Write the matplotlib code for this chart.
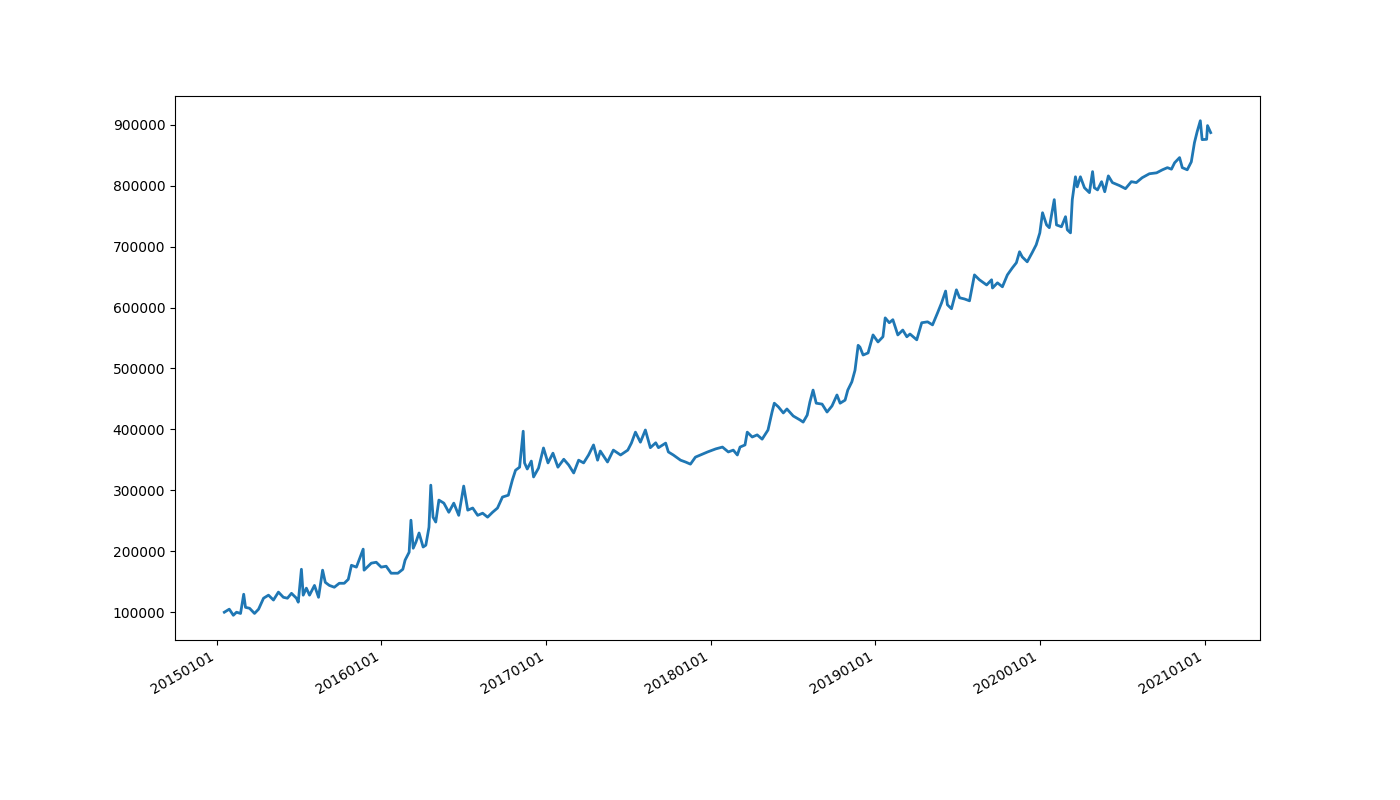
import matplotlib
matplotlib.use('Agg')
import matplotlib.pyplot as plt
import matplotlib.dates as mdates
import pandas as pd

# valores (curva de capital)
datas = [
    '2015-01-18', '2015-01-29', '2015-02-07', '2015-02-14', '2015-02-23', '2015-03-02',
    '2015-03-06', '2015-03-15', '2015-03-26', '2015-04-04', '2015-04-15', '2015-04-26',
    '2015-05-07', '2015-05-18', '2015-05-29', '2015-06-07', '2015-06-16', '2015-06-27',
    '2015-07-01', '2015-07-08', '2015-07-12', '2015-07-19', '2015-07-26', '2015-08-06',
    '2015-08-15', '2015-08-24', '2015-08-30', '2015-09-08', '2015-09-19', '2015-09-30',
    '2015-10-11', '2015-10-20', '2015-10-27', '2015-11-07', '2015-11-22', '2015-11-24',
    '2015-12-10', '2015-12-21', '2016-01-01', '2016-01-12', '2016-01-23', '2016-02-07',
    '2016-02-18', '2016-02-23', '2016-03-03', '2016-03-07', '2016-03-12', '2016-03-18',
    '2016-03-25', '2016-04-03', '2016-04-09', '2016-04-16', '2016-04-20', '2016-04-25',
    '2016-05-01', '2016-05-08', '2016-05-19', '2016-05-30', '2016-06-10', '2016-06-21',
    '2016-07-02', '2016-07-11', '2016-07-22', '2016-08-02', '2016-08-13', '2016-08-24',
    '2016-09-04', '2016-09-15', '2016-09-26', '2016-10-09', '2016-10-18', '2016-10-25',
    '2016-11-03', '2016-11-11', '2016-11-14', '2016-11-20', '2016-11-29', '2016-12-04',
    '2016-12-15', '2016-12-26', '2017-01-05', '2017-01-16', '2017-01-27', '2017-02-09',
    '2017-02-20', '2017-03-03', '2017-03-14', '2017-03-25', '2017-04-05', '2017-04-16',
    '2017-04-25', '2017-05-01', '2017-05-17', '2017-05-30', '2017-06-15', '2017-07-01',
    '2017-07-09', '2017-07-18', '2017-07-29', '2017-08-09', '2017-08-20', '2017-09-01',
    '2017-09-07', '2017-09-23', '2017-09-29', '2017-10-10', '2017-10-26', '2017-11-06',
    '2017-11-17', '2017-11-28', '2017-12-09', '2017-12-25', '2018-01-12', '2018-01-27',
    '2018-02-09', '2018-02-20', '2018-03-01', '2018-03-07', '2018-03-18', '2018-03-23',
    '2018-04-03', '2018-04-14', '2018-04-25', '2018-05-08', '2018-05-17', '2018-05-22',
    '2018-05-31', '2018-06-11', '2018-06-19', '2018-07-03', '2018-07-18', '2018-07-25',
    '2018-08-03', '2018-08-09', '2018-08-16', '2018-08-23', '2018-09-05', '2018-09-16',
    '2018-09-27', '2018-10-08', '2018-10-15', '2018-10-26', '2018-11-01', '2018-11-10',
    '2018-11-17', '2018-11-24', '2018-11-28', '2018-12-05', '2018-12-16', '2018-12-27',
    '2019-01-07', '2019-01-18', '2019-01-23', '2019-02-01', '2019-02-09', '2019-02-20',
    '2019-03-03', '2019-03-12', '2019-03-19', '2019-04-03', '2019-04-14', '2019-04-27',
    '2019-05-08', '2019-05-19', '2019-05-28', '2019-06-06', '2019-06-10', '2019-06-19',
    '2019-06-30', '2019-07-07', '2019-07-18', '2019-07-29', '2019-08-09', '2019-08-20',
    '2019-09-05', '2019-09-16', '2019-09-18', '2019-09-29', '2019-10-10', '2019-10-21',
    '2019-11-01', '2019-11-10', '2019-11-17', '2019-11-23', '2019-12-04', '2019-12-15',
    '2019-12-24', '2020-01-01', '2020-01-07', '2020-01-16', '2020-01-22', '2020-02-02',
    '2020-02-07', '2020-02-18', '2020-02-27', '2020-03-02', '2020-03-09', '2020-03-13',
    '2020-03-20', '2020-03-24', '2020-03-31', '2020-04-09', '2020-04-20', '2020-04-27',
    '2020-05-01', '2020-05-08', '2020-05-17', '2020-05-24', '2020-06-01', '2020-06-10',
    '2020-06-26', '2020-07-09', '2020-07-22', '2020-08-02', '2020-08-15', '2020-08-31',
    '2020-09-16', '2020-09-29', '2020-10-10', '2020-10-19', '2020-10-26', '2020-11-06',
    '2020-11-12', '2020-11-23', '2020-12-02', '2020-12-09', '2020-12-15', '2020-12-22',
    '2020-12-26', '2021-01-05', '2021-01-07', '2021-01-14',
]

capital = [
    100000, 105000, 95000, 100000, 98000, 129500,
    108000, 106500, 98000, 105000, 123000, 128000,
    120000, 133000, 124500, 123000, 131000, 123000,
    116500, 170500, 128000, 139500, 128000, 144000,
    124500, 169000, 149000, 144000, 141000, 147500,
    147500, 154000, 177000, 174000, 203500, 169000,
    180500, 182000, 174000, 175500, 164000, 164000,
    170500, 185500, 198500, 251000, 205000, 215000,
    230000, 207000, 210000, 239500, 308500, 256000,
    248000, 284000, 279000, 264000, 279000, 259000,
    307000, 267500, 271000, 259000, 262500, 256000,
    264000, 271000, 289000, 292000, 317000, 333000,
    338000, 397000, 345000, 335000, 348000, 322000,
    336500, 369500, 345000, 361000, 338000, 351000,
    341500, 328500, 349500, 345000, 358000, 374500,
    349500, 364500, 346500, 366000, 358000, 366000,
    377500, 395500, 379000, 399000, 370000, 378000,
    370000, 377500, 363000, 358000, 349500, 346500,
    343000, 354500, 358000, 363000, 368000, 371000,
    363000, 366000, 358000, 371000, 374500, 395500,
    387500, 391000, 384000, 399000, 428500, 443000,
    437000, 427000, 433500, 422000, 415500, 412000,
    423500, 445000, 464500, 443000, 441500, 428500,
    438500, 456500, 443000, 448000, 464500, 478000,
    497000, 538000, 535000, 522000, 525500, 555000,
    543500, 552000, 583000, 575000, 580000, 555000,
    563000, 552000, 556500, 547000, 575000, 576500,
    571500, 591000, 607500, 627000, 604500, 598000,
    629000, 616000, 614000, 611000, 653500, 645500,
    637000, 645500, 632000, 640500, 634000, 653500,
    665000, 673500, 691500, 683000, 675000, 690000,
    703000, 722500, 755500, 735500, 731000, 777000,
    735500, 732500, 749000, 727500, 722500, 777000,
    814500, 798000, 814500, 796500, 788500, 823000,
    796500, 793000, 806500, 790000, 816000, 805000,
    800000, 795000, 806500, 805000, 813000, 819500,
    821000, 826000, 829500, 827000, 837500, 846000,
    829500, 826000, 839000, 870500, 888500, 906500,
    875500, 876000, 898500, 887000,
]

x = pd.to_datetime(datas)

fig, ax = plt.subplots(figsize=(14, 8), dpi=100)
ax.plot(x, capital, color='#1f77b4', linewidth=2)

ax.xaxis.set_major_locator(mdates.YearLocator())
ax.xaxis.set_major_formatter(mdates.DateFormatter('%Y%m%d'))
fig.autofmt_xdate()

plt.savefig('out.png', dpi=100)
plt.close()
